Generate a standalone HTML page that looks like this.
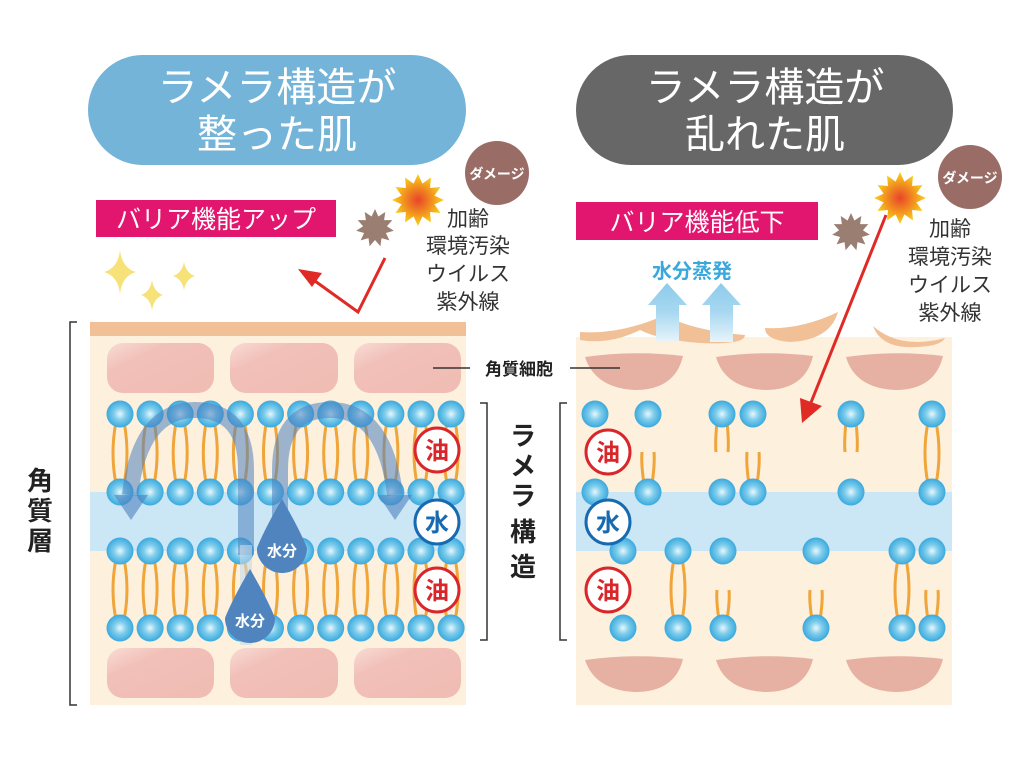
<!DOCTYPE html>
<html><head><meta charset="utf-8"><style>
html,body{margin:0;padding:0;background:#fff}
svg{display:block}
text{font-family:"Liberation Sans","Noto Sans CJK JP",sans-serif}
</style></head><body>
<svg id="s" width="1024" height="757" viewBox="0 0 1024 757" xmlns="http://www.w3.org/2000/svg">
<defs>
<radialGradient id="ball" cx="0.5" cy="0.5" r="0.5">
<stop offset="0" stop-color="#e8f7fd"/><stop offset="0.45" stop-color="#7fcdec"/><stop offset="1" stop-color="#3aa9dd"/>
</radialGradient>
<radialGradient id="sun" cx="0.5" cy="0.5" r="0.5">
<stop offset="0" stop-color="#e8442a"/><stop offset="0.6" stop-color="#f39a1e"/><stop offset="1" stop-color="#f8d41a"/>
</radialGradient>
<linearGradient id="up" x1="0" y1="1" x2="0" y2="0">
<stop offset="0" stop-color="#e8f4fb"/><stop offset="0.5" stop-color="#a9d8f0"/><stop offset="1" stop-color="#8ccbec"/>
</linearGradient>
<linearGradient id="cell" x1="0" y1="0" x2="1" y2="1">
<stop offset="0" stop-color="#f8dcd6"/><stop offset="0.3" stop-color="#f1c0b8"/><stop offset="1" stop-color="#f0bcb3"/>
</linearGradient>
</defs>

<!-- titles -->
<rect x="88" y="55" width="378" height="110" rx="55" fill="#74b4d8"/>
<text x="277" y="101" font-size="40" fill="#fff" text-anchor="middle">ラメラ構造が</text>
<text x="277" y="148" font-size="40" fill="#fff" text-anchor="middle">整った肌</text>
<rect x="576" y="55" width="377" height="110" rx="55" fill="#676767"/>
<text x="765" y="101" font-size="40" fill="#fff" text-anchor="middle">ラメラ構造が</text>
<text x="765" y="148" font-size="40" fill="#fff" text-anchor="middle">乱れた肌</text>

<!-- pink labels -->
<rect x="96" y="200" width="240" height="37" fill="#e3166f"/>
<text x="216" y="228" font-size="25" fill="#fff" text-anchor="middle">バリア機能アップ</text>
<rect x="576" y="202" width="242" height="38" fill="#e3166f"/>
<text x="697" y="231" font-size="25" fill="#fff" text-anchor="middle">バリア機能低下</text>

<!-- damage -->
<circle cx="497" cy="173" r="32" fill="#9a6c66"/>
<text x="497" y="179" font-size="14" font-weight="bold" fill="#fff" text-anchor="middle">ダメージ</text>
<circle cx="970" cy="177" r="32" fill="#9a6c66"/>
<text x="970" y="183" font-size="14" font-weight="bold" fill="#fff" text-anchor="middle">ダメージ</text>
<g font-size="21" fill="#333" text-anchor="middle">
<text x="468" y="226">加齢</text><text x="468" y="253">環境汚染</text><text x="468" y="281">ウイルス</text><text x="468" y="309">紫外線</text>
<text x="950" y="236">加齢</text><text x="950" y="264">環境汚染</text><text x="950" y="292">ウイルス</text><text x="950" y="320">紫外線</text>
</g>
<g id="stars"></g>

<!-- sparkles -->
<g fill="#f7e27a">
<path d="M120 250 Q122 268 136 272 Q122 276 120 294 Q118 276 104 272 Q118 268 120 250Z"/>
<path d="M152 280 Q154 292 163 295 Q154 298 152 310 Q150 298 141 295 Q150 292 152 280Z"/>
<path d="M184 262 Q186 273 195 276 Q186 279 184 290 Q182 279 173 276 Q182 273 184 262Z"/>
</g>

<!-- left panel -->
<rect x="90" y="322" width="376" height="14" fill="#f2c096"/>
<rect x="90" y="336" width="376" height="369" fill="#fdf0dc"/>
<rect x="90" y="492" width="376" height="59" fill="#cbe6f5"/>
<g fill="url(#cell)">
<rect x="107" y="343" width="107" height="50" rx="16"/><rect x="230" y="343" width="108" height="50" rx="16"/><rect x="354" y="343" width="107" height="50" rx="16"/>
<rect x="107" y="648" width="107" height="50" rx="16"/><rect x="230" y="648" width="108" height="50" rx="16"/><rect x="354" y="648" width="107" height="50" rx="16"/>
</g>
<g id="lipL"></g>

<!-- right panel -->
<rect x="576" y="337" width="376" height="368" fill="#fdf0dc"/>
<rect x="576" y="492" width="376" height="59" fill="#cbe6f5"/>
<g fill="#f2c096">
<path d="M580 332 Q620 335 665 315 Q690 330 745 335 Q745 345 700 343 Q660 340 640 330 Q610 345 580 340Z"/>
<path d="M765 328 Q800 330 838 312 Q830 340 790 342 Q765 340 765 328Z"/>
<path d="M873 326 Q900 350 945 338 Q940 348 905 347 Q880 345 873 326Z"/>
</g>
<g fill="#e6b0a3">
<path d="M585 357 Q635 350 683 356 Q675 390 635 390 Q595 388 585 357Z"/>
<path d="M716 357 Q765 350 813 356 Q805 390 765 390 Q725 388 716 357Z"/>
<path d="M846 357 Q895 350 943 356 Q935 390 895 390 Q855 388 846 357Z"/>
<path d="M585 660 Q635 653 683 659 Q675 692 635 692 Q595 690 585 660Z"/>
<path d="M716 660 Q765 653 813 659 Q805 692 765 692 Q725 690 716 660Z"/>
<path d="M846 660 Q895 653 943 659 Q935 692 895 692 Q855 690 846 660Z"/>
</g>
<g id="lipR"></g>
<g fill="url(#up)">
<path d="M656 342 V305 H648 L667 283 L687 305 H679 V342Z"/>
<path d="M710 342 V305 H702 L721 283 L741 305 H733 V342Z"/>
</g>
<text x="692" y="278" font-size="20" font-weight="bold" fill="#3aa8dc" text-anchor="middle">水分蒸発</text>

<!-- red arrows -->
<polyline points="385,258 358,312 308,276" fill="none" stroke="#e02a26" stroke-width="3"/>
<polygon points="298,269 322,273 312,287" fill="#e02a26"/>
<line x1="886" y1="215" x2="810" y2="405" stroke="#e02a26" stroke-width="3"/>
<polygon points="802,423 800,398 822,406" fill="#e02a26"/>

<!-- flow arrows left -->
<g fill="none" stroke="#4f82c0" stroke-opacity="0.55" stroke-width="16">
<path d="M246 555 V470 Q246 410 195 410 Q140 410 130 495"/>
<path d="M280 560 V470 Q280 410 330 410 Q385 410 395 495"/>
</g>
<polygon points="114,495 148,495 131,520" fill="#4f82c0" fill-opacity="0.6"/>
<polygon points="378,495 412,495 395,520" fill="#4f82c0" fill-opacity="0.6"/>
<rect x="240" y="545" width="12" height="100" fill="#c8d8e8" opacity="0.6"/>
<g fill="#4f84bf">
<path d="M282 499 Q300 530 307 548 A25 25 0 1 1 257 548 Q264 530 282 499Z"/>
<path d="M250 569 Q268 600 275 618 A25 25 0 1 1 225 618 Q232 600 250 569Z"/>
</g>
<text x="282" y="556" font-size="15" font-weight="bold" fill="#fff" text-anchor="middle">水分</text>
<text x="250" y="626" font-size="15" font-weight="bold" fill="#fff" text-anchor="middle">水分</text>

<!-- oil/water labels -->
<g stroke-width="3" fill="#fff">
<circle cx="437" cy="450" r="22" stroke="#d9262a"/><circle cx="437" cy="522" r="22" stroke="#1769b0"/><circle cx="437" cy="590" r="22" stroke="#d9262a"/>
<circle cx="608" cy="452" r="22" stroke="#d9262a"/><circle cx="608" cy="522" r="22" stroke="#1769b0"/><circle cx="608" cy="590" r="22" stroke="#d9262a"/>
</g>
<g font-size="24" font-weight="bold" text-anchor="middle">
<text x="437" y="459" fill="#d9262a">油</text><text x="437" y="531" fill="#1769b0">水</text><text x="437" y="599" fill="#d9262a">油</text>
<text x="608" y="461" fill="#d9262a">油</text><text x="608" y="531" fill="#1769b0">水</text><text x="608" y="599" fill="#d9262a">油</text>
</g>

<!-- brackets & labels -->
<g stroke="#333" stroke-width="1.5" fill="none">
<polyline points="77,322 70,322 70,705 77,705"/>
<polyline points="480,403 487,403 487,640 480,640"/>
<polyline points="567,403 560,403 560,640 567,640"/>
<line x1="433" y1="368" x2="470" y2="368"/><line x1="570" y1="368" x2="620" y2="368"/>
</g>
<g font-size="26" font-weight="bold" fill="#222" text-anchor="middle">
<text x="40" y="490">角</text><text x="40" y="520">質</text><text x="40" y="550">層</text>
<text x="523" y="445">ラ</text><text x="523" y="475">メ</text><text x="523" y="505">ラ</text><text x="523" y="541">構</text><text x="523" y="576">造</text>
</g>
<text x="519" y="375" font-size="17" font-weight="bold" fill="#222" text-anchor="middle">角質細胞</text>
</svg>
<script>
var NS="http://www.w3.org/2000/svg";
function el(p,t,a){var e=document.createElementNS(NS,t);for(var k in a)e.setAttribute(k,a[k]);p.appendChild(e);return e;}
function tail(g,x,y1,y2,full){
 if(full){el(g,"path",{d:"M"+(x-4)+" "+y1+" Q"+(x-10)+" "+((y1+y2)/2)+" "+(x-4)+" "+y2+" M"+(x+4)+" "+y1+" Q"+(x+10)+" "+((y1+y2)/2)+" "+(x+4)+" "+y2,stroke:"#f0a53a","stroke-width":3,fill:"none"});}
}
function star(g,cx,cy,r1,r2,n,fill){var p=[];for(var i=0;i<2*n;i++){var a=Math.PI*i/n,r=i%2?r2:r1;p.push((cx+r*Math.sin(a)).toFixed(1)+","+(cy-r*Math.cos(a)).toFixed(1));}el(g,"polygon",{points:p.join(" "),fill:fill});}
var st=document.getElementById("stars");
star(st,418,200,26,17,12,"url(#sun)");star(st,375,228,19,12,11,"#9a7e72");
star(st,900,198,26,17,12,"url(#sun)");star(st,851,232,19,12,11,"#9a7e72");
var L=document.getElementById("lipL");
for(var i=0;i<12;i++){var x=120+30.1*i;tail(L,x,422,484,1);tail(L,x,559,620,1);}
for(var i=0;i<12;i++){var x=120+30.1*i;[414,492,551,628].forEach(function(y){el(L,"circle",{cx:x,cy:y,r:13.5,fill:"url(#ball)"});});}
var R=document.getElementById("lipR");
function half(x,y1,y2,down){
 var d=down?"M"+(x-5)+" "+y1+" Q"+(x-7)+" "+(y1+20)+" "+(x-6)+" "+y2+" M"+(x+5)+" "+y1+" Q"+(x+7)+" "+(y1+20)+" "+(x+6)+" "+y2
 :"M"+(x-6)+" "+y1+" Q"+(x-7)+" "+(y2-20)+" "+(x-4)+" "+y2+" M"+(x+6)+" "+y1+" Q"+(x+7)+" "+(y2-20)+" "+(x+4)+" "+y2;
 el(R,"path",{d:d,stroke:"#f0a53a","stroke-width":3,fill:"none"});}
half(722,422,452,1);half(851,422,452,1);tail(R,932,422,484,1);
half(648,452,484,0);half(753,452,484,0);
tail(R,678,559,620,1);tail(R,902,559,620,1);
half(723,590,620,0);half(816,590,620,0);half(932,590,620,0);
[[595,414],[648,414],[722,414],[753,414],[851,414],[932,414],[595,492],[648,492],[722,492],[753,492],[851,492],[932,492],
 [623,551],[678,551],[723,551],[816,551],[902,551],[932,551],[623,628],[678,628],[723,628],[816,628],[902,628],[932,628]].forEach(function(p){el(R,"circle",{cx:p[0],cy:p[1],r:13.5,fill:"url(#ball)"});});
</script>
</body></html>
